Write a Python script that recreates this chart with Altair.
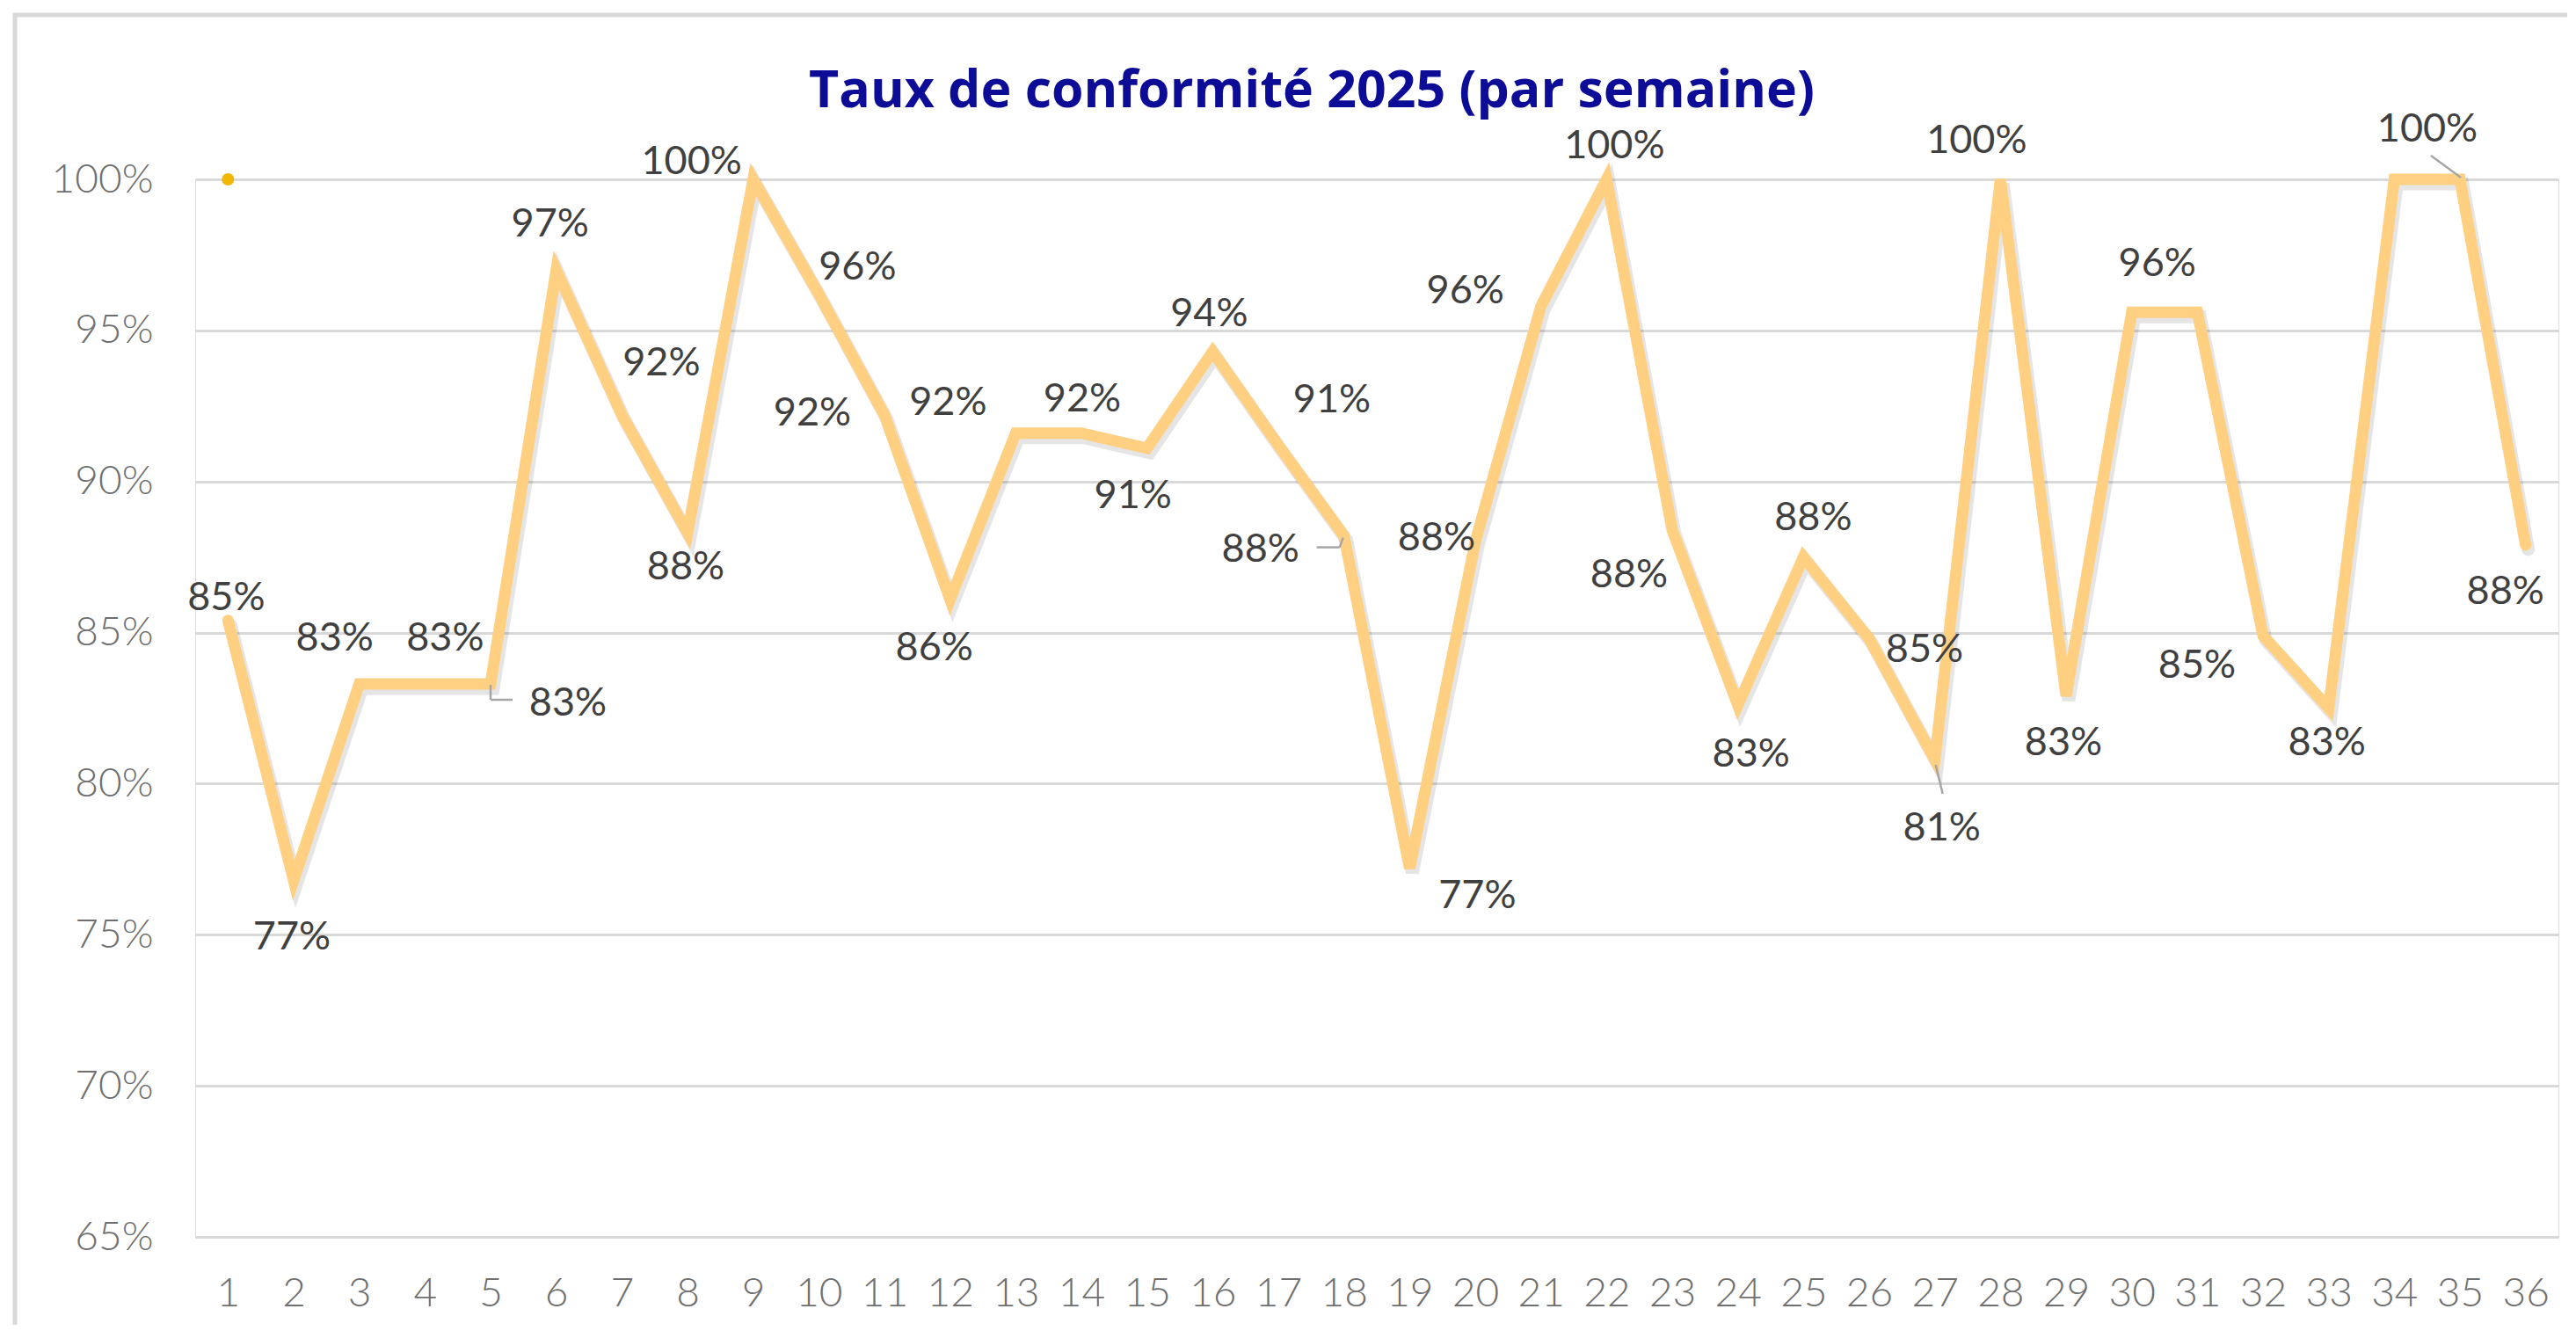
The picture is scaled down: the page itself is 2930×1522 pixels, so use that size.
import altair as alt
import pandas as pd

# ---- data ----
weeks = list(range(1, 37))
rates = [0.854, 0.768, 0.833, 0.833, 0.833, 0.970, 0.922, 0.883, 1.000, 0.962,
         0.922, 0.861, 0.916, 0.916, 0.911, 0.943, 0.912, 0.882, 0.772, 0.880,
         0.958, 1.000, 0.884, 0.826, 0.875, 0.848, 0.808, 1.000, 0.829, 0.956,
         0.956, 0.849, 0.825, 1.000, 1.000, 0.879]
# single extra marker shown at week 1 on the 100% line
marker_week = [1]
marker_rate = [1.0]
y_ticks = [0.65, 0.70, 0.75, 0.80, 0.85, 0.90, 0.95, 1.00]
title_text = "Taux de conformité 2025 (par semaine)"

# ---- label placement (pixel offsets from each point; None = label hidden) ----
label_offsets = [(-2, -26), (-2, 65), (-28, -52), (23, -52), (88, 22), (-7, -52),
                 (45, -59), (-2, 39), (-70, -20), (44, -31), (-82, -2), (-18, 55),
                 (-77, -35), (1, -39), (-16, 54), (-4, -43), (61, -51), (-95, 15),
                 (77, 31), (-44, -4), (-86, -17), (9, -38), (-49, 51), (15, 56),
                 (11, -45), (63, 13), (8, 78), (-27, -44), (-3, 53), (29, -55),
                 None, (-75, 34), (-2, 39), None, (-37, -57), (-23, 53)]
# leader lines: week -> list of segments (x1, y1, x2, y2) in pixels from the point
leaders = {
    5: [(0, 1, 0, 18), (0, 18, 25, 18)],
    18: [(-31, 13, -5, 13), (-5, 13, -1, 2)],
    27: [(1, 6, 9, 39)],
    35: [(-33, -27, 1, -2)],
}

df = pd.DataFrame({"semaine": weeks, "taux": rates})
df_marker = pd.DataFrame({"semaine": marker_week, "taux": marker_rate})

W, H = 2688, 1203
FONT = "Lato"

x_enc = alt.X("semaine:Q",
              scale=alt.Scale(domain=[0.5, 36.5], nice=False, zero=False),
              axis=alt.Axis(values=weeks, format="d", title=None, grid=False,
                            ticks=False, domain=False, labelFontSize=46,
                            labelColor="#6f6f6f", labelFont=FONT, labelFontWeight=300,
                            labelPadding=42, labelFlush=False))
y_enc = alt.Y("taux:Q",
              scale=alt.Scale(domain=[0.65, 1.0], nice=False, zero=False),
              axis=alt.Axis(values=y_ticks, format=".0%", title=None, grid=True,
                            gridColor="#d9d9d9", gridWidth=3, ticks=False, domain=False,
                            labelFontSize=46, labelColor="#6f6f6f", labelFont=FONT,
                            labelFontWeight=300, labelPadding=48))

base = alt.Chart(df)
one = pd.DataFrame({"a": [0]})

frame = alt.Chart(one).mark_rect(
    fill="transparent", stroke="#d9d9d9", strokeWidth=5
).encode(x=alt.value(-205), x2=alt.value(2800), y=alt.value(-187), y2=alt.value(1400))

title = alt.Chart(one).mark_text(
    text=title_text, fontSize=59, font="Open Sans", fontWeight="bold", color="#0c0c96",
    align="center", baseline="alphabetic"
).encode(x=alt.value(1270), y=alt.value(-82))

shadow = base.mark_line(color="#000000", opacity=0.10, strokeWidth=15,
                        strokeJoin="miter", strokeCap="round",
                        xOffset=3, yOffset=5).encode(x=x_enc, y=y_enc)
line = base.mark_line(color="#FFCF82", strokeWidth=13, strokeJoin="miter",
                      strokeCap="round").encode(x=x_enc, y=y_enc)
marker = alt.Chart(df_marker).mark_point(filled=True, color="#F2B705", size=200,
                                         opacity=1).encode(x=x_enc, y=y_enc)

leader_layers = []
for w, segs in leaders.items():
    for (a, b, c, d) in segs:
        leader_layers.append(
            base.transform_filter(alt.datum.semaine == w).mark_rule(
                color="#a6a6a6", strokeWidth=2.5,
                xOffset=a, yOffset=b, x2Offset=c, y2Offset=d
            ).encode(x=x_enc, y=y_enc, x2=alt.X2("semaine:Q"), y2=alt.Y2("taux:Q"))
        )

label_layers = []
for w, off in zip(weeks, label_offsets):
    if off is None:
        continue
    label_layers.append(
        base.transform_filter(alt.datum.semaine == w).mark_text(
            fontSize=45, font=FONT, color="#404040", align="center",
            baseline="middle", dx=off[0], dy=off[1]
        ).encode(x=x_enc, y=y_enc, text=alt.Text("taux:Q", format=".0%"))
    )

chart = alt.layer(frame, title, shadow, line, marker, *leader_layers,
                  *label_layers).properties(
    width=W, height=H,
    autosize=alt.AutoSizeParams(type="none"),
    padding={"left": 214, "top": 196, "right": 10, "bottom": 100},
).configure_view(stroke=None).configure(background="white")

chart.save("out.html", embed_options={"renderer": "svg", "actions": False})
